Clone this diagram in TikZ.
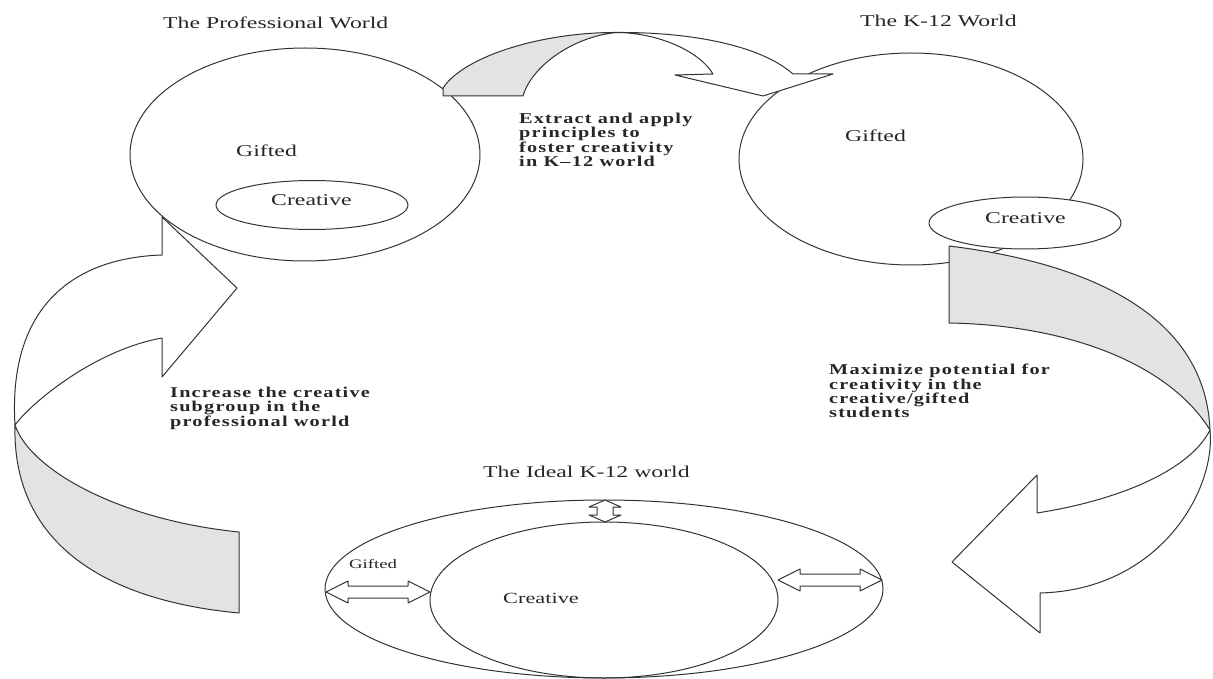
\documentclass[tikz,border=0pt]{standalone}
\usepackage{fontspec}
\setmainfont{Liberation Serif}[FakeStretch=1.44]
\newfontfamily\boldfam{Liberation Serif}[FakeStretch=1.35, LetterSpace=8]
\usetikzlibrary{shapes.geometric}
\begin{document}
\begin{tikzpicture}[x=1pt,y=-1pt,
  line/.style={draw=black!80, line width=1pt, line join=round},
  band/.style={line, fill=black!11},
  front/.style={line, fill=white},
  world/.style={line, ellipse, inner sep=0pt, outer sep=0pt},
  lab/.style={inner sep=0pt, text=black!85, font=\fontsize{16.5}{18}\selectfont},
  blab/.style={inner sep=0pt, align=left, text=black!85, font=\boldfam\bfseries\fontsize{15}{14.3}\selectfont},
  small/.style={inner sep=0pt, text=black!85, font=\fontsize{13}{15}\selectfont}
]
\useasboundingbox (0,0) rectangle (1213,679);

% ---------- The Professional World ----------
\node[world, minimum width=350pt, minimum height=213pt] (prof) at (305,154.5) {};
\node[world, minimum width=192pt, minimum height=49pt] (profc) at (312,205) {};
\node[lab, anchor=base west] (proft) at (163,29) {The Professional World};
\node[lab, anchor=base west] (profg) at (236,157) {Gifted};
\node[lab, anchor=base west] (profct) at (271,206) {Creative};

% ---------- The K-12 World ----------
\node[world, minimum width=344pt, minimum height=212pt] (k12) at (911,159) {};
\node[world, fill=white, minimum width=192pt, minimum height=52pt] (k12c) at (1025,223) {};
\node[lab, anchor=base west] (k12t) at (860,27) {The K-12 World};
\node[lab, anchor=base west] (k12g) at (845,142) {Gifted};
\node[lab, anchor=base west] (k12ct) at (985,224) {Creative};

% ---------- top ribbon arrow ----------
\path[band] (443,96) -- (443,88) .. controls (465,55) and (545,32) .. (617,32.5)
  .. controls (575,36) and (532,65) .. (523,96) -- cycle;
\path[front] (617,32.5) .. controls (690,32) and (760,45) .. (793,74) -- (833,74) -- (763,96)
  -- (675,75) -- (713,74) .. controls (700,52) and (660,33) .. (617,32.5) -- cycle;

% ---------- right ribbon arrow ----------
\path[band] (949,246) -- (949,323) .. controls (1070,325) and (1170,365) .. (1210,430)
  .. controls (1205,310) and (1080,262) .. (949,246) -- cycle;
\path[front] (1210,430) .. controls (1216,490) and (1160,590) .. (1040,593) -- (1040,633)
  -- (952,562) -- (1037,475) -- (1037,513) .. controls (1120,500) and (1190,470) .. (1210,430) -- cycle;

% ---------- left ribbon arrow ----------
\path[band] (239,532) -- (239,613) .. controls (100,600) and (12,540) .. (15,425)
  .. controls (30,470) and (120,520) .. (239,532) -- cycle;
\path[front] (15,425) .. controls (8,310) and (70,258) .. (162,255) -- (162,217) -- (237,288)
  -- (162,377) -- (162,338) .. controls (95,350) and (32,402) .. (15,425) -- cycle;

% ---------- The Ideal K-12 world ----------
\node[world, minimum width=558pt, minimum height=178pt] (ideal) at (604,589) {};
\node[world, minimum width=348pt, minimum height=156pt] (idealc) at (604,600) {};
\node[lab, anchor=base west] (idealt) at (483,477) {The Ideal K-12 world};
\node[small, anchor=base west] (idealg) at (349,568) {Gifted};
\node[lab, anchor=base west, font=\fontsize{15.5}{17}\selectfont] (idealct) at (503,603) {Creative};

\coordinate (gl) at (326,592); \coordinate (gr) at (430,592);
\path[front] (gl) -- ++(22,-11) -- ++(0,5) -- ++(60,0) -- ++(0,-5) -- (gr)
  -- ++(-22,11) -- ++(0,-5) -- ++(-60,0) -- ++(0,5) -- cycle;
\coordinate (hl) at (778,580); \coordinate (hr) at (882,580);
\path[front] (hl) -- ++(22,-11) -- ++(0,5) -- ++(60,0) -- ++(0,-5) -- (hr)
  -- ++(-22,11) -- ++(0,-5) -- ++(-60,0) -- ++(0,5) -- cycle;
\coordinate (vt) at (605,500); \coordinate (vb) at (605,522);
\path[front] (vt) -- ++(-16,7) -- ++(8,0) -- ++(0,8) -- ++(-8,0) -- (vb)
  -- ++(16,-7) -- ++(-8,0) -- ++(0,-8) -- ++(8,0) -- cycle;

% ---------- bold captions ----------
\node[blab, anchor=north west] (extract) at (519,113)
  {Extract and apply\\principles to\\foster creativity\\in K–12 world};
\node[blab, anchor=north west] (increase) at (170,387)
  {Increase the creative\\subgroup in the\\professional world};
\node[blab, anchor=north west] (maximize) at (829,364)
  {Maximize potential for\\creativity in the\\creative/gifted\\students};
\end{tikzpicture}
\end{document}
